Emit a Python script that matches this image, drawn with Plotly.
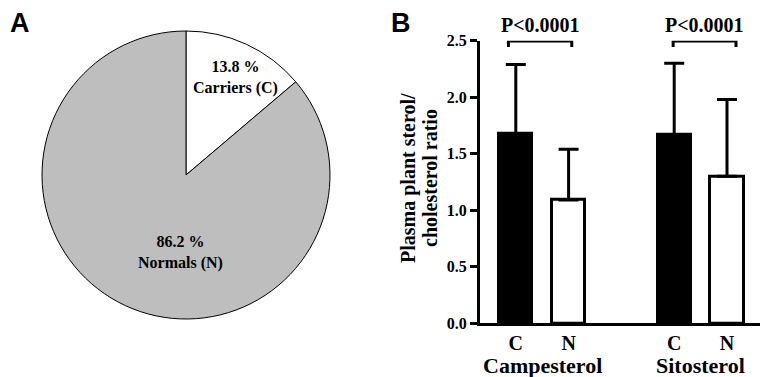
import plotly.graph_objects as go

# ---------------- data ----------------
pie_labels = ["Carriers (C)", "Normals (N)"]
pie_values = [13.8, 86.2]
pie_colors = ["#ffffff", "#bebebe"]

groups = ["Campesterol", "Sitosterol"]
subgroups = ["C", "N"]
carrier_means = [1.68, 1.67]
carrier_sd = [0.61, 0.63]
normal_means = [1.09, 1.30]
normal_sd = [0.45, 0.68]
p_labels = ["P<0.0001", "P<0.0001"]
y_ticks = [0.0, 0.5, 1.0, 1.5, 2.0, 2.5]

W, H = 760, 377
SERIF = "Liberation Serif, Times New Roman, serif"
SANS = "Liberation Sans, Arial, sans-serif"

def px(x):
    return x / W

def py(y):
    return 1 - y / H

# positions: C and N within each group, gap between groups
c_x = [3 * g + 1 for g in range(len(groups))]
n_x = [3 * g + 2 for g in range(len(groups))]

fig = go.Figure()

# ---------------- panel A: pie ----------------
cx, cy, r = 186, 175, 144
fig.add_trace(go.Pie(
    labels=pie_labels, values=pie_values, sort=False,
    direction="clockwise", rotation=0,
    marker=dict(colors=pie_colors, line=dict(color="black", width=1)),
    textinfo="none", hoverinfo="label+percent", showlegend=False,
    domain=dict(x=[px(cx - r), px(cx + r)], y=[py(cy + r), py(cy - r)]),
))

# ---------------- panel B: bars ----------------
fig.add_trace(go.Bar(
    x=c_x, y=carrier_means, width=0.63, name="C",
    marker=dict(color="black", line=dict(color="black", width=3)),
    error_y=dict(type="data", symmetric=False, array=carrier_sd,
                 arrayminus=[0] * len(carrier_sd), color="black",
                 thickness=3, width=10),
    showlegend=False, xaxis="x", yaxis="y",
))
fig.add_trace(go.Bar(
    x=n_x, y=normal_means, width=0.63, name="N",
    marker=dict(color="white", line=dict(color="black", width=3)),
    error_y=dict(type="data", symmetric=False, array=normal_sd,
                 arrayminus=[0] * len(normal_sd), color="black",
                 thickness=3, width=10),
    showlegend=False, xaxis="x", yaxis="y",
))

annotations = []
shapes = []

def note(text, x, y, size, family=SERIF, xref="paper", yref="paper", angle=0):
    annotations.append(dict(text=text, x=x, y=y, xref=xref, yref=yref,
                            xanchor="center", yanchor="middle", showarrow=False,
                            textangle=angle,
                            font=dict(family=family, size=size, color="black")))

# panel letters
note("<b>A</b>", px(20), py(23), 27, family=SANS)
note("<b>B</b>", px(401), py(23), 27, family=SANS)

# pie labels
pie_text_pos = [(235, 78), (180, 252)]
for lab, val, (tx, ty) in zip(pie_labels, pie_values, pie_text_pos):
    note(f"<b>{val} %<br>{lab}</b>", px(tx), py(ty), 16)

# y axis title (two lines)
note("<b>Plasma plant sterol/</b>", px(408), py(178), 20, angle=-90)
note("<b>cholesterol ratio</b>", px(430), py(178), 20, angle=-90)

# group labels
for g, name in enumerate(groups):
    note(f"<b>{name}</b>", (c_x[g] + n_x[g]) / 2, py(365), 22, xref="x")

# significance brackets
bracket_ends = [(0.86, 2.06), (3.98, 5.17)]
for (x0, x1), p in zip(bracket_ends, p_labels):
    shapes.append(dict(type="path", xref="x", yref="y",
                       path=f"M {x0},2.445 L {x0},2.497 L {x1},2.497 L {x1},2.445",
                       line=dict(color="black", width=3)))
    note(f"<b>{p}</b>", (x0 + x1) / 2, py(25), 20, xref="x")

fig.update_layout(
    width=W, height=H,
    margin=dict(l=0, r=0, t=0, b=0, pad=0, autoexpand=False),
    showlegend=False,
    paper_bgcolor="white", plot_bgcolor="white",
    bargap=0,
    xaxis=dict(domain=[px(480), 1.0], range=[0.322, 5.625], automargin=False,
               tickvals=c_x + n_x,
               ticktext=[f"<b>{subgroups[0]}</b>"] * len(c_x) + [f"<b>{subgroups[1]}</b>"] * len(n_x),
               showline=True, linecolor="black", linewidth=3,
               ticks="", showgrid=False, zeroline=False,
               tickfont=dict(family=SERIF, size=20, color="black"),
               fixedrange=True),
    yaxis=dict(domain=[py(323.3), py(40.7)], range=[0, 2.5], automargin=False,
               tickvals=y_ticks, ticktext=[f"<b>{v:.1f}</b>" for v in y_ticks],
               showline=True, linecolor="black", linewidth=3,
               ticks="outside", ticklen=7, tickwidth=2.5, tickcolor="black",
               showgrid=False, zeroline=False,
               tickfont=dict(family=SERIF, size=16, color="black"),
               fixedrange=True),
    annotations=annotations,
    shapes=shapes,
    font=dict(family=SERIF, color="black"),
)

fig.write_html("out.html", config={"displayModeBar": False},
               post_script="document.body.style.margin='0';document.body.style.overflow='hidden';")
